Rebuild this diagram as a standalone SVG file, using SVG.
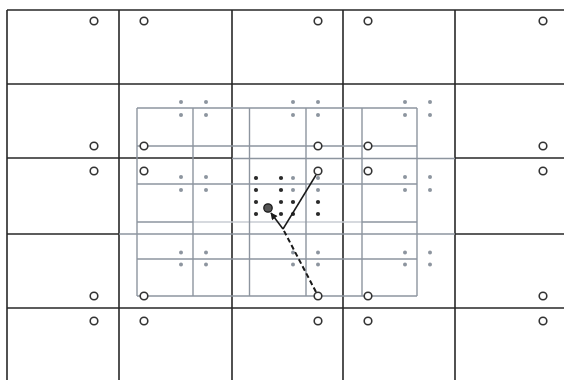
<svg xmlns="http://www.w3.org/2000/svg" width="564" height="380" viewBox="0 0 564 380">
<style>
.blk{stroke:#262626;stroke-width:1.6;fill:none}
.gry{stroke:#8d959f;stroke-width:1.4;fill:none}
.lgt{stroke:#c9cdd3;stroke-width:1.6;fill:none}
.circ{fill:#fff;stroke:#333;stroke-width:1.6}
.gd{fill:#8d959f}
.dd{fill:#2a2a2a}
</style>
<defs>
<marker id="ah" viewBox="0 0 10 10" refX="9" refY="5" markerWidth="10" markerHeight="7" markerUnits="userSpaceOnUse" orient="auto">
<path d="M0,0 L10,5 L0,10 z" fill="#1a1a1a"/>
</marker>
</defs>
<rect width="564" height="380" fill="#fff"/>
<g id="black-grid">
<line class="blk" x1="7" y1="10" x2="564" y2="10"/>
<line class="blk" x1="7" y1="84" x2="564" y2="84"/>
<line class="blk" x1="7" y1="158" x2="232" y2="158"/>
<line class="blk" x1="455" y1="158" x2="564" y2="158"/>
<line class="blk" x1="7" y1="234" x2="119" y2="234"/>
<line class="blk" x1="455" y1="234" x2="564" y2="234"/>
<line class="blk" x1="7" y1="308" x2="564" y2="308"/>
<line class="blk" x1="7" y1="10" x2="7" y2="380"/>
<line class="blk" x1="119" y1="10" x2="119" y2="380"/>
<line class="blk" x1="232" y1="10" x2="232" y2="380"/>
<line class="blk" x1="343" y1="10" x2="343" y2="380"/>
<line class="blk" x1="455" y1="10" x2="455" y2="380"/>
</g>
<g id="gray-grid">
<line class="gry" x1="232" y1="158.5" x2="455" y2="158.5"/>
<line class="gry" x1="119" y1="234" x2="455" y2="234"/>
<line class="lgt" x1="193" y1="222" x2="362" y2="222"/>
<line class="gry" x1="137" y1="222" x2="193" y2="222"/>
<line class="gry" x1="362" y1="222" x2="417" y2="222"/>
<line class="gry" x1="137" y1="108" x2="417" y2="108"/>
<line class="gry" x1="137" y1="146" x2="417" y2="146"/>
<line class="gry" x1="137" y1="184" x2="417" y2="184"/>
<line class="gry" x1="137" y1="259" x2="417" y2="259"/>
<line class="gry" x1="137" y1="296" x2="417" y2="296"/>
<line class="gry" x1="137" y1="108" x2="137" y2="296"/>
<line class="gry" x1="193" y1="108" x2="193" y2="296"/>
<line class="gry" x1="249.5" y1="108" x2="249.5" y2="296"/>
<line class="gry" x1="306" y1="108" x2="306" y2="296"/>
<line class="gry" x1="362" y1="108" x2="362" y2="296"/>
<line class="gry" x1="417" y1="108" x2="417" y2="296"/>
</g>
<g id="gray-dots">
<circle class="gd" cx="181" cy="102" r="2"/><circle class="gd" cx="206" cy="102" r="2"/>
<circle class="gd" cx="181" cy="115" r="2"/><circle class="gd" cx="206" cy="115" r="2"/>
<circle class="gd" cx="293" cy="102" r="2"/><circle class="gd" cx="318" cy="102" r="2"/>
<circle class="gd" cx="293" cy="115" r="2"/><circle class="gd" cx="318" cy="115" r="2"/>
<circle class="gd" cx="405" cy="102" r="2"/><circle class="gd" cx="430" cy="102" r="2"/>
<circle class="gd" cx="405" cy="115" r="2"/><circle class="gd" cx="430" cy="115" r="2"/>
<circle class="gd" cx="181" cy="177" r="2"/><circle class="gd" cx="206" cy="177" r="2"/>
<circle class="gd" cx="181" cy="190" r="2"/><circle class="gd" cx="206" cy="190" r="2"/>
<circle class="gd" cx="293" cy="178" r="2"/><circle class="gd" cx="318" cy="178" r="2"/>
<circle class="gd" cx="293" cy="190" r="2"/><circle class="gd" cx="318" cy="190" r="2"/>
<circle class="gd" cx="405" cy="177" r="2"/><circle class="gd" cx="430" cy="177" r="2"/>
<circle class="gd" cx="405" cy="190" r="2"/><circle class="gd" cx="430" cy="190" r="2"/>
<circle class="gd" cx="181" cy="252.5" r="2"/><circle class="gd" cx="206" cy="252.5" r="2"/>
<circle class="gd" cx="181" cy="264.5" r="2"/><circle class="gd" cx="206" cy="264.5" r="2"/>
<circle class="gd" cx="293" cy="252.5" r="2"/><circle class="gd" cx="318" cy="252.5" r="2"/>
<circle class="gd" cx="293" cy="264.5" r="2"/><circle class="gd" cx="318" cy="264.5" r="2"/>
<circle class="gd" cx="405" cy="252.5" r="2"/><circle class="gd" cx="430" cy="252.5" r="2"/>
<circle class="gd" cx="405" cy="264.5" r="2"/><circle class="gd" cx="430" cy="264.5" r="2"/>
</g>
<g id="dark-dots">
<circle class="dd" cx="256" cy="178" r="2.1"/><circle class="dd" cx="281" cy="178" r="2.1"/>
<circle class="dd" cx="256" cy="190" r="2.1"/><circle class="dd" cx="281" cy="190" r="2.1"/>
<circle class="dd" cx="256" cy="202" r="2.1"/><circle class="dd" cx="281" cy="202" r="2.1"/>
<circle class="dd" cx="256" cy="214" r="2.1"/><circle class="dd" cx="281" cy="214" r="2.1"/>
<circle class="dd" cx="293" cy="202" r="2.1"/><circle class="dd" cx="318" cy="202" r="2.1"/>
<circle class="dd" cx="293" cy="214" r="2.1"/><circle class="dd" cx="318" cy="214" r="2.1"/>
</g>
<g id="samples">
<circle class="circ" cx="94" cy="21" r="3.8"/><circle class="circ" cx="144" cy="21" r="3.8"/>
<circle class="circ" cx="318" cy="21" r="3.8"/><circle class="circ" cx="368" cy="21" r="3.8"/>
<circle class="circ" cx="543" cy="21" r="3.8"/>
<circle class="circ" cx="94" cy="146" r="3.8"/><circle class="circ" cx="144" cy="146" r="3.8"/>
<circle class="circ" cx="318" cy="146" r="3.8"/><circle class="circ" cx="368" cy="146" r="3.8"/>
<circle class="circ" cx="543" cy="146" r="3.8"/>
<circle class="circ" cx="94" cy="171" r="3.8"/><circle class="circ" cx="144" cy="171" r="3.8"/>
<circle class="circ" cx="318" cy="171" r="3.8"/><circle class="circ" cx="368" cy="171" r="3.8"/>
<circle class="circ" cx="543" cy="171" r="3.8"/>
<circle class="circ" cx="94" cy="296" r="3.8"/><circle class="circ" cx="144" cy="296" r="3.8"/>
<circle class="circ" cx="318" cy="296" r="3.8"/><circle class="circ" cx="368" cy="296" r="3.8"/>
<circle class="circ" cx="543" cy="296" r="3.8"/>
<circle class="circ" cx="94" cy="321" r="3.8"/><circle class="circ" cx="144" cy="321" r="3.8"/>
<circle class="circ" cx="318" cy="321" r="3.8"/><circle class="circ" cx="368" cy="321" r="3.8"/>
<circle class="circ" cx="543" cy="321" r="3.8"/>
</g>
<g id="connectors">
<line x1="316" y1="175" x2="283" y2="229" stroke="#1a1a1a" stroke-width="1.5"/>
<line x1="316" y1="292" x2="283" y2="229" stroke="#1a1a1a" stroke-width="2" stroke-dasharray="5,3"/>
<line x1="283" y1="229" x2="271" y2="213" stroke="#1a1a1a" stroke-width="1.5" marker-end="url(#ah)"/>
</g>
<g id="current-point">
<circle cx="268" cy="208" r="4.2" fill="#555" stroke="#1a1a1a" stroke-width="1.3"/>
</g>
</svg>
